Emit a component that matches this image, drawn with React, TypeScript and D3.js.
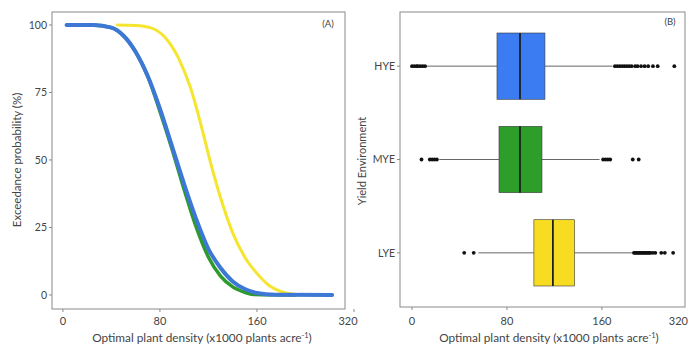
import * as d3 from 'd3';
import React from 'react';

// exceedance curves: [density, exceedance %]
const hyeCurve: [number, number][] = [
  [3, 100], [25, 100], [40, 99], [50, 96], [60, 90], [70, 81], [80, 69], [90, 55],
  [100, 41], [110, 28], [120, 17], [130, 10], [140, 5], [150, 2.2], [160, 0.7], [175, 0.1], [222, 0],
];
const myeCurve: [number, number][] = [
  [8, 100], [25, 100], [40, 99], [50, 96], [60, 90], [70, 81], [80, 68], [90, 54],
  [100, 39], [110, 25], [120, 14], [130, 7], [140, 3], [150, 1], [157, 0.2], [192, 0],
];
const lyeCurve: [number, number][] = [
  [45, 100], [60, 99.8], [72, 99], [85, 95], [95, 88], [105, 77], [115, 61], [120, 52],
  [130, 36], [140, 23], [150, 14], [160, 8], [170, 3.5], [180, 1.2], [190, 0.3], [200, 0], [220, 0],
];

const categories = ['HYE', 'MYE', 'LYE'];
const boxStats = [
  { name: 'HYE', lo: 12, q1: 71.6, med: 91, q3: 112, hi: 169, color: '#3b7cf2' },
  { name: 'MYE', lo: 23, q1: 73.3, med: 91, q3: 109.5, hi: 158, color: '#2e9e2a' },
  { name: 'LYE', lo: 56, q1: 102.7, med: 118.7, q3: 137, hi: 186, color: '#f7dc22' },
];
const outliers: Record<string, number[]> = {
  HYE: [0, 2, 4, 5, 7, 9, 11, 171, 173, 175, 177, 179, 181, 183, 185, 188, 190, 193, 196, 199, 203, 207, 221],
  MYE: [8, 15, 17, 19, 21, 161, 163, 165, 167, 186, 191],
  LYE: [44, 52, 187, 188, 189, 190, 191, 192, 193, 194, 195, 196, 197, 198, 199, 200, 201, 203, 205, 210, 213, 220],
};

const xTickValues = [0, 80, 160, 240];
const xTickLabels = ['0', '80', '160', '320'];
const yTicksA = [0, 25, 50, 75, 100];

const FONT = 'Lato, "Open Sans", sans-serif';
const FRAME = '#8a8a8a';
const TEXT = '#444';

const App: React.FC = () => {
  // panel A
  const ax = d3.scaleLinear().domain([-9, 232.6]).range([52, 345]);
  const ay = d3.scaleLinear().domain([-5.2, 104.8]).range([309, 12]);
  const line = d3.line<[number, number]>()
    .x((d) => ax(d[0]))
    .y((d) => ay(d[1]))
    .curve(d3.curveMonotoneX);

  // panel B
  const bx = d3.scaleLinear().domain([-10.1, 230]).range([400, 685]);
  const by = d3.scalePoint<string>().domain(categories).range([12, 307]).padding(0.58);
  const boxH = by.step() * 0.71;

  return (
    <svg width={689} height={351} style={{ position: 'absolute', left: 0, top: 0 }} fontFamily={FONT}>
      <rect width={689} height={351} fill="#fff" />

      {/* Panel A */}
      <rect x={52} y={12} width={293} height={297} fill="none" stroke={FRAME} strokeWidth={1} />
      <path d={line(lyeCurve) || ''} fill="none" stroke="#f5e52e" strokeWidth={3} strokeLinecap="round" />
      <path d={line(myeCurve) || ''} fill="none" stroke="#2f9a2c" strokeWidth={3.5} strokeLinecap="round" />
      <path d={line(hyeCurve) || ''} fill="none" stroke="#3d78d6" strokeWidth={4} strokeLinecap="round" />
      {yTicksA.map((t) => (
        <g key={t}>
          <line x1={49} x2={52} y1={ay(t)} y2={ay(t)} stroke={FRAME} />
          <text x={47} y={ay(t)} dy="0.35em" textAnchor="end" fontSize={10.5} fill={TEXT}>{t}</text>
        </g>
      ))}
      {xTickValues.map((t, i) => (
        <g key={t}>
          <line x1={ax(t)} x2={ax(t)} y1={309} y2={312} stroke={FRAME} />
          <text x={ax(t) - (i === 3 ? 6 : 0)} y={321} dy="0.35em" textAnchor="middle" fontSize={11} fill={TEXT}>{xTickLabels[i]}</text>
        </g>
      ))}
      <text x={202} y={338} dy="0.35em" textAnchor="middle" fontSize={11.8} fill={TEXT}>
        Optimal plant density (x1000 plants acre<tspan dy="-4" fontSize={7.5}>-1</tspan><tspan dy="4">)</tspan>
      </text>
      <text transform="translate(17,160) rotate(-90)" dy="0.35em" textAnchor="middle" fontSize={11.5} fill={TEXT}>
        Exceedance probability (%)
      </text>
      <text x={328} y={24} dy="0.35em" textAnchor="middle" fontSize={9.5} fill={TEXT}>(A)</text>

      {/* Panel B */}
      <rect x={400} y={12} width={285} height={295} fill="none" stroke={FRAME} strokeWidth={1} />
      {boxStats.map((b) => {
        const cy = by(b.name) as number;
        return (
          <g key={b.name}>
            <line x1={bx(b.lo)} x2={bx(b.q1)} y1={cy} y2={cy} stroke="#555" strokeWidth={0.9} />
            <line x1={bx(b.q3)} x2={bx(b.hi)} y1={cy} y2={cy} stroke="#555" strokeWidth={0.9} />
            <rect x={bx(b.q1)} y={cy - boxH / 2} width={bx(b.q3) - bx(b.q1)} height={boxH}
              fill={b.color} stroke="#3a3a3a" strokeWidth={0.6} />
            <line x1={bx(b.med)} x2={bx(b.med)} y1={cy - boxH / 2} y2={cy + boxH / 2} stroke="#1f1f1f" strokeWidth={1.8} />
            {outliers[b.name].map((v, j) => (
              <circle key={j} cx={bx(v)} cy={cy} r={1.9} fill="#111" />
            ))}
            <line x1={397} x2={400} y1={cy} y2={cy} stroke={FRAME} />
            <text x={395} y={cy} dy="0.35em" textAnchor="end" fontSize={10.5} fill={TEXT}>{b.name}</text>
          </g>
        );
      })}
      {xTickValues.map((t, i) => (
        <g key={t}>
          <line x1={bx(t)} x2={bx(t)} y1={307} y2={310} stroke={FRAME} />
          <text x={i === 3 ? 688 : bx(t)} y={321} dy="0.35em" textAnchor={i === 3 ? 'end' : 'middle'} fontSize={11} fill={TEXT}>{xTickLabels[i]}</text>
        </g>
      ))}
      <text x={549} y={338} dy="0.35em" textAnchor="middle" fontSize={11.8} fill={TEXT}>
        Optimal plant density (x1000 plants acre<tspan dy="-4" fontSize={7.5}>-1</tspan><tspan dy="4">)</tspan>
      </text>
      <text transform="translate(362,161) rotate(-90)" dy="0.35em" textAnchor="middle" fontSize={11} fill={TEXT}>
        Yield Environment
      </text>
      <text x={670} y={22} dy="0.35em" textAnchor="middle" fontSize={9.5} fill={TEXT}>(B)</text>
    </svg>
  );
};

export default App;
